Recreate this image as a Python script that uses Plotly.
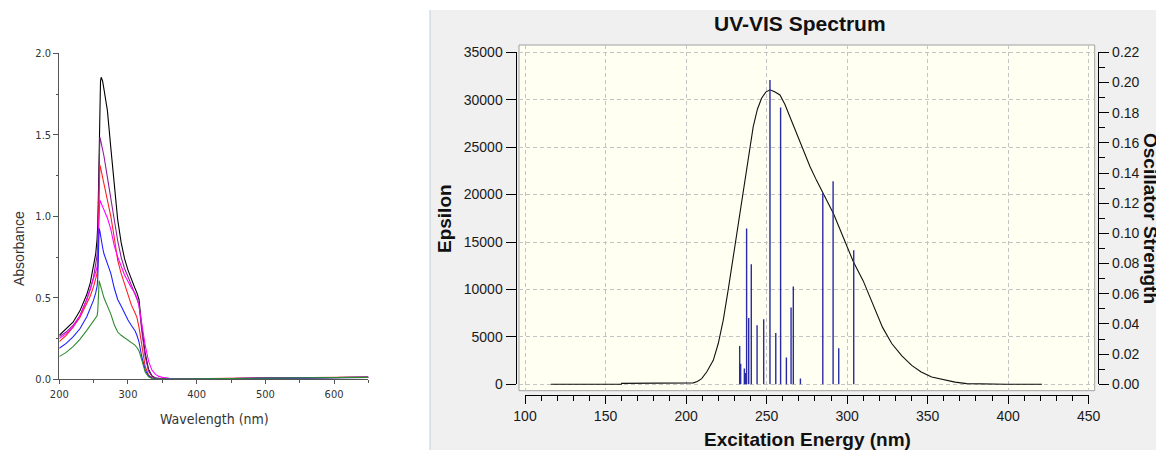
import plotly.graph_objects as go

W, H = 1164, 450
OFF = 8  # default page body margin; the figure is shifted by this amount

# ---------------- Left panel data (absorbance spectra) ----------------
wavelength = [200, 210, 220, 230, 240, 245, 250, 253, 255, 256, 257, 258, 259, 260, 261,
              263, 265, 270, 275, 280, 285, 290, 295, 300, 305, 310, 313, 316, 320, 325,
              330, 335, 340, 345, 350, 360, 380, 400, 450, 500, 550, 600, 650]

abs_black = [0.27, 0.31, 0.35, 0.42, 0.52, 0.59, 0.69, 0.77, 0.86, 0.95, 1.15, 1.45, 1.70, 1.83, 1.853,
             1.83, 1.78, 1.65, 1.42, 1.18, 0.98, 0.84, 0.74, 0.67, 0.61, 0.56, 0.53, 0.49, 0.32, 0.16,
             0.06, 0.02, 0.008, 0.004, 0.003, 0.002, 0.002, 0.003, 0.005, 0.007, 0.009, 0.011, 0.013]
abs_purple = [0.262, 0.29, 0.33, 0.39, 0.49, 0.55, 0.63, 0.70, 0.76, 0.82, 1.05, 1.42, 1.485, 1.47, 1.45,
              1.41, 1.37, 1.24, 1.10, 0.96, 0.85, 0.75, 0.68, 0.63, 0.58, 0.53, 0.50, 0.46, 0.30, 0.14,
              0.05, 0.018, 0.007, 0.004, 0.003, 0.002, 0.002, 0.003, 0.005, 0.007, 0.009, 0.011, 0.013]
abs_red = [0.231, 0.27, 0.32, 0.38, 0.466, 0.51, 0.57, 0.62, 0.65, 0.70, 0.95, 1.28, 1.315, 1.30, 1.28,
           1.24, 1.21, 1.11, 1.00, 0.87, 0.73, 0.65, 0.58, 0.51, 0.455, 0.41, 0.38, 0.32, 0.20, 0.08,
           0.025, 0.01, 0.005, 0.004, 0.003, 0.003, 0.003, 0.004, 0.006, 0.008, 0.010, 0.012, 0.014]
abs_magenta = [0.25, 0.28, 0.32, 0.39, 0.49, 0.55, 0.61, 0.66, 0.69, 0.73, 0.90, 1.07, 1.10, 1.09, 1.08,
               1.06, 1.04, 0.99, 0.92, 0.82, 0.75, 0.69, 0.64, 0.60, 0.56, 0.53, 0.50, 0.45, 0.34, 0.21,
               0.11, 0.055, 0.03, 0.018, 0.012, 0.006, 0.003, 0.003, 0.005, 0.007, 0.009, 0.011, 0.013]
abs_blue = [0.19, 0.22, 0.26, 0.31, 0.384, 0.43, 0.487, 0.53, 0.57, 0.62, 0.80, 0.926, 0.91, 0.88, 0.85,
            0.81, 0.77, 0.71, 0.65, 0.56, 0.49, 0.45, 0.405, 0.364, 0.33, 0.30, 0.27, 0.23, 0.14, 0.057,
            0.02, 0.008, 0.003, 0.002, 0.002, 0.002, 0.002, 0.003, 0.005, 0.007, 0.009, 0.011, 0.012]
abs_green = [0.139, 0.165, 0.20, 0.245, 0.30, 0.33, 0.364, 0.38, 0.39, 0.42, 0.52, 0.605, 0.59, 0.57, 0.55,
             0.53, 0.50, 0.45, 0.40, 0.335, 0.29, 0.27, 0.255, 0.24, 0.225, 0.21, 0.195, 0.175, 0.12, 0.045,
             0.015, 0.005, 0.002, 0.002, 0.002, 0.002, 0.002, 0.003, 0.005, 0.007, 0.009, 0.011, 0.012]

left_series = [
    ("#000000", abs_black),
    ("#8B1C9B", abs_purple),
    ("#FF2020", abs_red),
    ("#FF00FF", abs_magenta),
    ("#2020FF", abs_blue),
    ("#2E8B2E", abs_green),
]
left_x_ticks = [200, 300, 400, 500, 600]
left_y_ticks = [0.0, 0.5, 1.0, 1.5, 2.0]

# ---------------- Right panel data (UV-VIS spectrum) ----------------
eps_nm = [116, 159.9, 160, 203, 204.5, 207, 209.7, 212.8, 216.9, 220, 223.1, 226.2, 229.3, 232.4,
          235.5, 238.6, 241.7, 244.3, 246.9, 249.5, 252.1, 255, 258.3, 261.4, 264.5, 267.6, 270.8,
          274, 277, 281, 285.3, 291.5, 297.6, 303.8, 310, 316.3, 322, 327.7,
          334, 340.1, 346, 352.5, 360, 367, 374.2, 385, 399, 421]
eps_val = [0, 0, 100, 100, 150, 300, 600, 1300, 2530, 4300, 6760, 10000, 13440, 16800,
           20130, 23700, 27160, 29000, 30150, 30800, 31050, 30850, 30500, 29500, 28220, 26850, 25410,
           24100, 22940, 21500, 20130, 18000, 15500, 12950, 10900, 8250, 6000, 4300,
           3000, 2000, 1300, 770, 450, 230, 70, 30, 10, 0]

osc_nm = [233.3, 233.9, 236.2, 237.0, 237.6, 238.9, 240.5, 244.1, 248.2, 252.1,
          255.7, 258.7, 262.3, 265.2, 266.6, 271.0, 284.9, 291.3, 294.8, 304.1]
osc_f = [0.0254, 0.0137, 0.0104, 0.0075, 0.1033, 0.0440, 0.0796, 0.0392, 0.0431, 0.2017,
         0.0340, 0.1834, 0.0177, 0.0509, 0.0648, 0.0038, 0.1266, 0.1345, 0.0239, 0.0889]

right_x_ticks = [100, 150, 200, 250, 300, 350, 400, 450]
eps_ticks = [0, 5000, 10000, 15000, 20000, 25000, 30000, 35000]
osc_ticks = [0.00, 0.02, 0.04, 0.06, 0.08, 0.10, 0.12, 0.14, 0.16, 0.18, 0.20, 0.22]

# ---------------- Layout geometry (pixels in the final picture) ----------------
FW, FH = W - OFF, H - OFF

def px(x):
    return (x - OFF) / FW

def py(y):
    return 1 - (y - OFF) / FH

# left panel
L_X0, L_X1, L_YT, L_YB = 59.3, 368.4, 53.3, 379.3
# right panel
FR_X0, FR_X1, FR_YT, FR_YB = 519.0, 1094.7, 45.0, 390.7      # yellow frame
AX_X0, AX_X1 = 525.0, 1088.7                                 # x 100 -> 450
AX_YB, AX_YT = 384.3, 52.3                                   # y 0 -> 35000
XAXIS_Y, YAXIS_L, YAXIS_R = 395.0, 515.5, 1098.3

xs = (AX_X1 - AX_X0) / (right_x_ticks[-1] - right_x_ticks[0])
x_rng = [right_x_ticks[0] - (AX_X0 - FR_X0) / xs, right_x_ticks[-1] + (FR_X1 - AX_X1) / xs]
ys = (AX_YB - AX_YT) / eps_ticks[-1]
y_rng = [-(FR_YB - AX_YB) / ys, eps_ticks[-1] + (AX_YT - FR_YT) / ys]
y2_rng = [v * osc_ticks[-1] / eps_ticks[-1] for v in y_rng]

fig = go.Figure()

# left spectra
for color, vals in left_series:
    fig.add_trace(go.Scatter(x=wavelength, y=vals, mode="lines",
                             line=dict(color=color, width=1.1),
                             xaxis="x3", yaxis="y5", hoverinfo="skip", showlegend=False))

# oscillator-strength sticks
bx, by = [], []
for n, f in zip(osc_nm, osc_f):
    bx += [n, n, None]
    by += [0, f, None]
fig.add_trace(go.Scatter(x=bx, y=by, mode="lines", line=dict(color="#2a2aa8", width=1.4),
                         xaxis="x", yaxis="y2", hoverinfo="skip", showlegend=False))

# epsilon curve
fig.add_trace(go.Scatter(x=eps_nm, y=eps_val, mode="lines",
                         line=dict(color="#111111", width=1.1),
                         xaxis="x", yaxis="y", hoverinfo="skip", showlegend=False))

# empty traces for the display axes
fig.add_trace(go.Scatter(x=[], y=[], xaxis="x2", yaxis="y3", showlegend=False))
fig.add_trace(go.Scatter(x=[], y=[], xaxis="x2", yaxis="y4", showlegend=False))

RFONT = "Arial, Liberation Sans, sans-serif"
LFONT = "Liberation Sans Narrow, Arial Narrow, DejaVu Sans Condensed, Liberation Sans, sans-serif"
grid = dict(gridcolor="#c4c4c4", griddash="4px,3px", gridwidth=1)
hidden = dict(showticklabels=False, ticks="", showline=False, zeroline=False, fixedrange=True,
              automargin=False)

fig.update_layout(
    template="none",
    width=FW, height=FH, autosize=False,
    margin=dict(l=0, r=0, t=0, b=0, pad=0),
    paper_bgcolor="white", plot_bgcolor="rgba(0,0,0,0)",
    showlegend=False,
    # right panel: data axes (frame)
    xaxis=dict(domain=[px(FR_X0), px(FR_X1)], range=x_rng, anchor="y",
               tickmode="array", tickvals=right_x_ticks, showgrid=True, **grid, **hidden),
    yaxis=dict(domain=[py(FR_YB), py(FR_YT)], range=y_rng, anchor="x",
               tickmode="array", tickvals=eps_ticks, showgrid=True, **grid, **hidden),
    yaxis2=dict(overlaying="y", range=y2_rng, anchor="x", showgrid=False, **hidden),
    # right panel: display axes
    xaxis2=dict(domain=[px(AX_X0), px(AX_X1)], range=[right_x_ticks[0], right_x_ticks[-1]],
                anchor="free", position=py(XAXIS_Y), showline=True, linecolor="#000", linewidth=1,
                tickmode="array", tickvals=right_x_ticks, ticks="outside", ticklen=8, tickcolor="#000",
                minor=dict(dtick=10, tick0=100, ticks="outside", ticklen=5, tickcolor="#000", showgrid=False),
                showgrid=False, zeroline=False, fixedrange=True, automargin=False,
                tickfont=dict(family=RFONT, size=14, color="#1a1a1a")),
    yaxis3=dict(domain=[py(AX_YB), py(AX_YT)], range=[0, eps_ticks[-1]], anchor="free",
                position=px(YAXIS_L), side="left", showline=True, linecolor="#000", linewidth=1,
                tickmode="array", tickvals=eps_ticks, tickformat="d", ticks="outside", ticklen=10,
                tickcolor="#000", showgrid=False, zeroline=False, fixedrange=True, automargin=False,
                tickfont=dict(family=RFONT, size=14, color="#1a1a1a")),
    yaxis4=dict(overlaying="y3", range=[0, osc_ticks[-1]], anchor="free", position=px(YAXIS_R),
                side="right", showline=True, linecolor="#000", linewidth=1,
                tickmode="array", tickvals=osc_ticks, tickformat=".2f", ticks="outside", ticklen=10,
                tickcolor="#000",
                minor=dict(dtick=0.01, tick0=0, ticks="outside", ticklen=6, tickcolor="#000", showgrid=False),
                showgrid=False, zeroline=False, fixedrange=True, automargin=False,
                tickfont=dict(family=RFONT, size=14, color="#1a1a1a")),
    # left panel
    xaxis3=dict(domain=[px(L_X0), px(L_X1)], range=[200, 650], anchor="y5",
                showline=True, linecolor="#555", linewidth=1,
                tickmode="array", tickvals=left_x_ticks, ticks="outside", ticklen=4, tickcolor="#555",
                minor=dict(dtick=50, tick0=200, ticks="outside", ticklen=3, tickcolor="#555", showgrid=False),
                showgrid=False, zeroline=False, fixedrange=True, automargin=False, ticklabelstandoff=0,
                tickfont=dict(family=LFONT, size=11, color="#333")),
    yaxis5=dict(domain=[py(L_YB), py(L_YT)], range=[0, 2], anchor="x3",
                showline=True, linecolor="#555", linewidth=1,
                tickmode="array", tickvals=left_y_ticks, tickformat=".1f", ticks="outside", ticklen=5,
                tickcolor="#555",
                minor=dict(dtick=0.25, tick0=0, ticks="outside", ticklen=2, tickcolor="#555", showgrid=False),
                showgrid=False, zeroline=False, fixedrange=True, automargin=False,
                tickfont=dict(family=LFONT, size=11, color="#333")),
    shapes=[
        dict(type="rect", xref="paper", yref="paper", x0=px(430), x1=1, y0=0, y1=py(10),
             fillcolor="#f0f0f0", line=dict(width=0), layer="below"),
        dict(type="line", xref="paper", yref="paper", x0=px(430), x1=px(430), y0=0, y1=py(10),
             line=dict(color="#c3cfdf", width=1), layer="below"),
        dict(type="rect", xref="paper", yref="paper", x0=px(FR_X0), x1=px(FR_X1),
             y0=py(FR_YB), y1=py(FR_YT), fillcolor="#fffff2",
             line=dict(color="#a0a0a0", width=1), layer="below"),
    ],
    annotations=[
        dict(text="<b>UV-VIS Spectrum</b>", xref="paper", yref="paper", x=px(800), y=py(24),
             xanchor="center", yanchor="middle", showarrow=False,
             font=dict(family=RFONT, size=21, color="#111")),
        dict(text="<b>Epsilon</b>", xref="paper", yref="paper", x=px(444), y=py(219),
             xanchor="center", yanchor="middle", showarrow=False, textangle=-90,
             font=dict(family=RFONT, size=19, color="#111")),
        dict(text="<b>Oscillator Strength</b>", xref="paper", yref="paper", x=px(1151), y=py(218),
             xanchor="center", yanchor="middle", showarrow=False, textangle=90,
             font=dict(family=RFONT, size=19, color="#111")),
        dict(text="<b>Excitation Energy (nm)</b>", xref="paper", yref="paper", x=px(808), y=py(439),
             xanchor="center", yanchor="middle", showarrow=False,
             font=dict(family=RFONT, size=19, color="#111")),
        dict(text="Absorbance", xref="paper", yref="paper", x=px(19), y=py(249),
             xanchor="center", yanchor="middle", showarrow=False, textangle=-90,
             font=dict(family=RFONT, size=14, color="#333")),
        dict(text="Wavelength (nm)", xref="paper", yref="paper", x=px(214), y=py(419),
             xanchor="center", yanchor="middle", showarrow=False,
             font=dict(family=LFONT, size=14, color="#333")),
    ],
)

fig.write_html("out.html")
